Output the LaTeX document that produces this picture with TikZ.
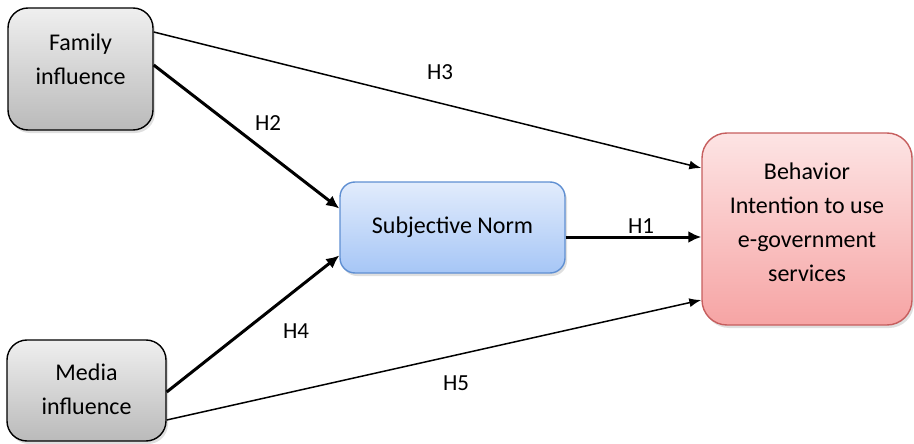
\documentclass[tikz,border=0pt]{standalone}
\usepackage{fontspec}
\setmainfont{Carlito}
\usepackage{tikz}
\usetikzlibrary{shadows,arrows.meta}

\definecolor{greytop}{HTML}{EFEFEF}
\definecolor{greybot}{HTML}{BABABA}
\definecolor{bluetop}{HTML}{E2ECFC}
\definecolor{bluebot}{HTML}{A6C6F6}
\definecolor{blueline}{HTML}{5F8FD2}
\definecolor{redtop}{HTML}{FDE4E4}
\definecolor{redbot}{HTML}{F6A4A4}
\definecolor{redline}{HTML}{C65E5E}

\tikzset{
  box/.style={rounded corners=20pt, line width=1.4pt,
    drop shadow={shadow xshift=2pt, shadow yshift=-3pt, opacity=0.25}},
  boxtext/.style={label={[align=center, font=\fontsize{24}{34}\selectfont, yshift=#1]center:\boxcontent}},
  greybox/.style={box, draw=black, top color=greytop, bottom color=greybot},
  thin arrow/.style={-{Latex[length=12pt,width=9pt]}, line width=1.5pt},
  thick arrow/.style={-{Latex[length=13pt,width=12pt]}, line width=3pt},
  hlabel/.style={font=\fontsize{23}{26}\selectfont}
}

\begin{document}
\begin{tikzpicture}[x=1pt,y=-1pt]
\useasboundingbox (0,0) rectangle (914,444);

\def\boxcontent{Family\\influence}
\node[greybox, minimum width=145pt, minimum height=122pt, boxtext=10pt] (fam) at (80.5,69) {};
\def\boxcontent{Media\\influence}
\node[greybox, minimum width=159pt, minimum height=101pt, boxtext=1pt] (med) at (86.5,390.5) {};
\def\boxcontent{Subjective Norm}
\node[box, rounded corners=15pt, draw=blueline, top color=bluetop, bottom color=bluebot,
      minimum width=225pt, minimum height=91pt, boxtext=0pt] (sn) at (452.5,227.5) {};
\def\boxcontent{Behavior\\Intention to use\\e-government\\services}
\node[box, rounded corners=25pt, draw=redline, top color=redtop, bottom color=redbot,
      minimum width=210pt, minimum height=192pt, boxtext=7pt] (bi) at (807,229) {};

\draw[thin arrow]  ([yshift=37pt]fam.east) -- ([yshift=61pt]bi.west);
\draw[thick arrow] ([yshift=4pt]fam.east) -- ([yshift=19pt]sn.west);
\draw[thick arrow] ([yshift=-9.5pt]sn.east) -- ([yshift=-8pt]bi.west);
\draw[thick arrow] ([yshift=-1.5pt]med.east) -- ([yshift=-28pt]sn.west);
\draw[thin arrow]  ([yshift=-29.5pt]med.east) -- ([yshift=-71pt]bi.west);

\node[hlabel] (h3) at (440,72) {H3};
\node[hlabel] (h2) at (268,123) {H2};
\node[hlabel] (h1) at (641,226) {H1};
\node[hlabel] (h4) at (296,331) {H4};
\node[hlabel] (h5) at (456,383) {H5};
\end{tikzpicture}
\end{document}
